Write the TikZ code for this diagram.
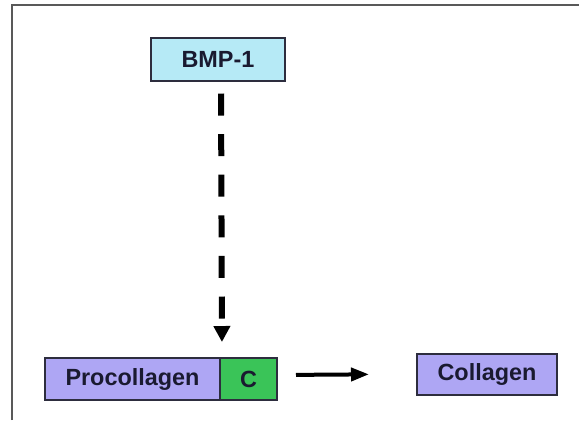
\documentclass[tikz,border=0pt]{standalone}
\usepackage{fontspec}
\setmainfont{Liberation Sans}
\usetikzlibrary{arrows.meta}
\definecolor{bmpblue}{RGB}{182,234,246}
\definecolor{collpurple}{RGB}{174,166,244}
\definecolor{cgreen}{RGB}{58,196,88}
\definecolor{boxline}{RGB}{45,45,62}
\definecolor{boxtext}{RGB}{26,26,48}
\begin{document}
\begin{tikzpicture}[x=0.5pt, y=-0.5pt,
	box/.style={draw=boxline, line width=1pt, inner sep=0pt, text=boxtext,
		font=\fontsize{11.7}{14}\selectfont\bfseries},
	cleave/.style={line width=3pt, dash pattern=on 11pt off 9.3pt,
		-{Triangle[length=8pt,width=8pt]}},
	turnover/.style={line width=2pt, -{Triangle[length=9pt,width=6.5pt]}}]
	% page: 579 x 420 px, half a point per px
	\useasboundingbox (0,0) rectangle (579,420);
	\draw[line width=1pt, draw=black!65] (12,420) -- (12,4.5) -- (579,4.5);
	
	% protease
	\node[box, fill=bmpblue, minimum width=67pt, minimum height=21.5pt] (bmp) at (218,59) {BMP-1};
	
	% precursor with C-propeptide
	\node[box, fill=collpurple, minimum width=87.5pt, minimum height=21pt] (procollagen) at (132.5,379) {Procollagen};
	\node[box, fill=cgreen, minimum width=28.5pt, minimum height=21pt] (cterm) at (248.5,379) {C};
	
	% product
	\node[box, fill=collpurple, minimum width=70pt, minimum height=20.5pt] (collagen) at (487,374.5) {Collagen};
	
	% cleavage and conversion
	\draw[cleave, shorten <=6pt, shorten >=7.5pt] ([xshift=1.5pt]bmp.south) -- ([xshift=0.5pt]procollagen.north east);
	\draw[turnover, shorten <=9pt, shorten >=23.5pt] ([yshift=2pt]cterm.east) -- ([yshift=0.25pt]collagen.west);
\end{tikzpicture}
\end{document}
